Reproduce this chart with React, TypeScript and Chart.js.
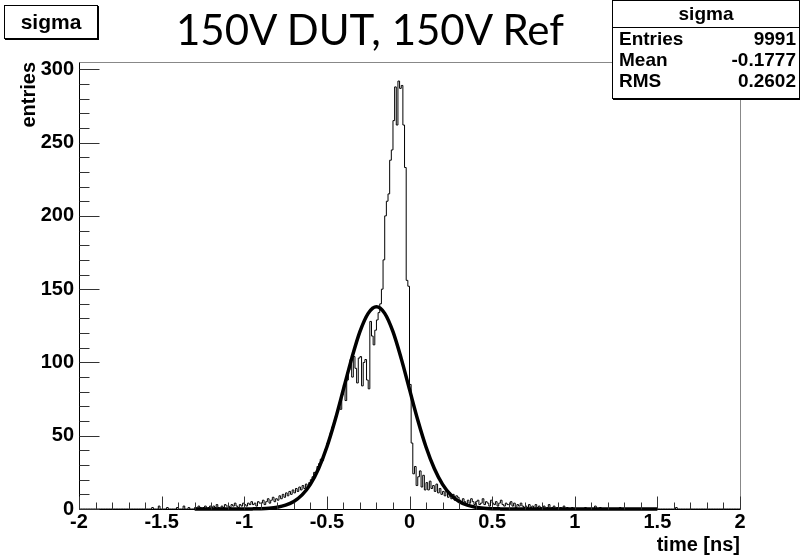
import React, { useEffect, useRef } from "react";
import { Chart, registerables } from "chart.js";

Chart.register(...registerables);

// ---- data ----
const BIN_START = -1.3;
const BIN_WIDTH = 0.01;
const COUNTS = [
  1, 0, 2, 1, 0, 1, 2, 0, 1, 2,
  1, 2, 1, 3, 1, 0, 2, 1, 3, 2,
  2, 1, 3, 2, 4, 2, 1, 3, 2, 4,
  3, 2, 4, 3, 5, 3, 4, 2, 5, 4,
  4, 6, 3, 5, 7, 4, 6, 8, 5, 7,
  6, 9, 7, 10, 8, 11, 9, 12, 10, 13,
  11, 14, 12, 15, 13, 16, 14, 17, 15, 18,
  20, 22, 25, 24, 29, 31, 34, 33, 38, 41,
  45, 48, 52, 56, 60, 63, 67, 70, 68, 78,
  85, 74, 88, 95, 102, 90, 104, 96, 86, 103,
  104, 84, 100, 102, 88, 82, 128, 118, 112, 122,
  129, 134, 140, 150, 170, 200, 210, 215, 238, 245,
  265, 288, 262, 292, 287, 289, 262, 233, 156, 152,
  85, 45, 24, 29, 16, 22, 26, 15, 23, 13,
  18, 13, 19, 14, 16, 12, 17, 11, 14, 10,
  12, 9, 13, 8, 11, 7, 10, 6, 9, 8,
  6, 4, 7, 5, 3, 6, 4, 7, 5, 3,
  5, 6, 3, 4, 7, 3, 5, 4, 2, 6,
  4, 3, 5, 2, 4, 6, 3, 2, 4, 3,
  3, 5, 2, 4, 1, 3, 2, 4, 2, 1,
  2, 1, 3, 1, 2, 0, 3, 1, 2, 1,
  1, 2, 0, 1, 3, 0, 1, 2, 0, 1,
  0, 1, 0, 2, 0, 1, 0, 0, 1, 0,
];
const OUTLIER_X = [-1.56, -1.52, -1.47, -1.41, -1.37, -1.34, 1.06, 1.12, 1.15, 1.27, 1.61];
const OUTLIER_COUNTS = [1, 2, 1, 1, 2, 1, 1, 2, 1, 1, 1];

const FIT_X = [
  -1.3, -1.2, -1.1, -1.0, -0.95, -0.9, -0.85, -0.8, -0.75, -0.7, -0.65, -0.6, -0.55,
  -0.5, -0.45, -0.4, -0.35, -0.3, -0.25, -0.2, -0.15, -0.1, -0.05, 0.0, 0.05, 0.1,
  0.15, 0.2, 0.25, 0.3, 0.35, 0.4, 0.45, 0.5, 0.55, 0.6, 0.7, 0.8, 1.0, 1.2, 1.5,
];
const FIT_Y = [
  0, 0, 0.003, 0.03, 0.085, 0.22, 0.53, 1.21, 2.58, 5.16, 9.62, 16.8, 27.6,
  42.3, 60.7, 81.6, 102.6, 121.0, 133.5, 138.0, 133.5, 121.0, 102.6, 81.6, 60.7, 42.3,
  27.6, 16.8, 9.62, 5.16, 2.58, 1.21, 0.53, 0.22, 0.085, 0.03, 0.003, 0, 0, 0, 0,
];

const X_MIN = -2;
const X_MAX = 2;
const X_STEP = 0.5;
const X_MINOR_DIVS = 5;
const Y_MIN = 0;
const Y_MAX = 305;
const Y_STEP = 50;
const Y_MINOR_DIVS = 5;

const TITLE = "150V DUT, 150V Ref";
const HIST_NAME = "sigma";
const STATS_LABELS = ["Entries", "Mean", "RMS"];
const STATS_VALUES = ["9991", "-0.1777", "0.2602"];
const X_TITLE = "time [ns]";
const Y_TITLE = "entries";

const FONT = "'Liberation Sans', Arial, Helvetica, sans-serif";

function buildHistogram() {
  const nBins = Math.round((X_MAX - X_MIN) / BIN_WIDTH);
  const c = new Array(nBins).fill(0);
  const off = Math.round((BIN_START - X_MIN) / BIN_WIDTH);
  COUNTS.forEach((v, i) => {
    c[off + i] = v;
  });
  OUTLIER_X.forEach((x, i) => {
    c[Math.floor((x - X_MIN) / BIN_WIDTH + 1e-6)] = OUTLIER_COUNTS[i];
  });
  const pts = c.map((v, i) => ({ x: X_MIN + i * BIN_WIDTH, y: v }));
  pts.push({ x: X_MAX, y: c[nBins - 1] });
  return pts;
}

const framePlugin = {
  id: "rootFrame",
  afterDatasetsDraw(chart: any) {
    const { ctx, chartArea: a, scales } = chart;
    const xs = scales.x;
    const ys = scales.y;
    const L = Math.round(a.left) + 0.5;
    const R = Math.round(a.right) + 0.5;
    const T = Math.round(a.top) + 0.5;
    const B = Math.round(a.bottom) + 0.5;
    ctx.save();
    ctx.lineWidth = 1;
    ctx.strokeStyle = "#888";
    ctx.beginPath();
    ctx.moveTo(L, T);
    ctx.lineTo(R, T);
    ctx.lineTo(R, B);
    ctx.stroke();
    ctx.strokeStyle = "#000";
    ctx.beginPath();
    ctx.moveTo(L, T);
    ctx.lineTo(L, B);
    ctx.lineTo(R, B);
    ctx.stroke();
    ctx.strokeStyle = "#333";
    ctx.beginPath();
    const yMinor = Y_STEP / Y_MINOR_DIVS;
    for (let i = 0; i * yMinor <= Y_MAX; i++) {
      const v = i * yMinor;
      const y = Math.round(ys.getPixelForValue(v)) + 0.5;
      const len = i % Y_MINOR_DIVS === 0 ? 20 : 10;
      ctx.moveTo(L, y);
      ctx.lineTo(L + len, y);
    }
    const xMinor = X_STEP / X_MINOR_DIVS;
    const nx = Math.round((X_MAX - X_MIN) / xMinor);
    for (let i = 0; i <= nx; i++) {
      const v = X_MIN + i * xMinor;
      const x = Math.round(xs.getPixelForValue(v)) + 0.5;
      const len = i % X_MINOR_DIVS === 0 ? 13 : 7;
      ctx.moveTo(x, B);
      ctx.lineTo(x, B - len);
    }
    ctx.stroke();
    ctx.restore();
  },
};

export default function App() {
  const ref = useRef<HTMLCanvasElement | null>(null);
  useEffect(() => {
    if (!ref.current) return;
    const chart = new Chart(ref.current, {
      type: "scatter",
      data: {
        datasets: [
          {
            label: "fit",
            data: FIT_X.map((x, i) => ({ x, y: FIT_Y[i] })),
            showLine: true,
            borderColor: "#000",
            borderWidth: 3.5,
            pointRadius: 0,
            cubicInterpolationMode: "monotone",
            fill: false,
            clip: 4,
          } as any,
          {
            label: HIST_NAME,
            data: buildHistogram(),
            showLine: true,
            stepped: "before",
            borderColor: "#000",
            borderWidth: 1,
            pointRadius: 0,
            fill: false,
          } as any,
        ],
      },
      options: {
        responsive: false,
        animation: false,
        events: [],
        layout: { padding: { left: 0, top: 62, right: 60, bottom: 0 } },
        plugins: {
          legend: { display: false },
          tooltip: { enabled: false },
          title: { display: false },
        },
        scales: {
          x: {
            type: "linear",
            min: X_MIN,
            max: X_MAX,
            grid: { display: false, drawTicks: false },
            border: { display: false },
            ticks: {
              stepSize: X_STEP,
              includeBounds: false,
              maxRotation: 0,
              autoSkip: false,
              padding: 1,
              color: "#000",
              font: { family: FONT, size: 20, weight: "bold" },
              callback: (v: any) => String(Math.round(Number(v) * 10) / 10),
            },
            title: {
              display: true,
              text: X_TITLE,
              align: "end",
              color: "#000",
              font: { family: FONT, size: 20, weight: "bold" },
              padding: { top: 0, bottom: 1 },
            },
            afterFit: (s: any) => {
              s.height = 49;
            },
          },
          y: {
            type: "linear",
            min: Y_MIN,
            max: Y_MAX,
            grid: { display: false, drawTicks: false },
            border: { display: false },
            ticks: {
              stepSize: Y_STEP,
              includeBounds: false,
              padding: 5,
              color: "#000",
              font: { family: FONT, size: 20, weight: "bold" },
              callback: (v: any) => String(v),
            },
            title: {
              display: true,
              text: Y_TITLE,
              align: "end",
              color: "#000",
              font: { family: FONT, size: 20, weight: "bold" },
              padding: { top: 17, bottom: 0 },
            },
            afterFit: (s: any) => {
              s.width = 79;
            },
          },
        },
      },
      plugins: [framePlugin],
    });
    return () => chart.destroy();
  }, []);

  return (
    <div style={{ position: "fixed", left: 0, top: 0, width: 800, height: 558, background: "#fff" }}>
      <canvas ref={ref} width={800} height={558} style={{ position: "absolute", left: 0, top: 0 }} />
      <div
        style={{
          position: "absolute",
          left: 4,
          top: 5,
          width: 92,
          height: 32,
          border: "1px solid #000",
          boxShadow: "1px 1px 0 #000",
          background: "#fff",
          font: `bold 21px ${FONT}`,
          lineHeight: "32px",
          textAlign: "center",
          color: "#000",
        }}
      >
        {HIST_NAME}
      </div>
      <div
        style={{
          position: "absolute",
          left: 170,
          top: 7,
          width: 400,
          textAlign: "center",
          font: `42px Lato, 'Open Sans', sans-serif`,
          lineHeight: "44px",
          color: "#000",
          whiteSpace: "nowrap",
        }}
      >
        {TITLE}
      </div>
      <div
        style={{
          position: "absolute",
          left: 612,
          top: 0,
          width: 186,
          height: 97,
          border: "1px solid #000",
          boxShadow: "1px 1px 0 #000",
          background: "#fff",
          font: `bold 19px ${FONT}`,
          color: "#000",
        }}
      >
        <div style={{ height: 26, lineHeight: "26px", textAlign: "center", borderBottom: "1px solid #000" }}>
          {HIST_NAME}
        </div>
        {STATS_LABELS.map((l, i) => (
          <div key={l} style={{ display: "flex", justifyContent: "space-between", height: 21, lineHeight: "21px", padding: "0 3px 0 6px" }}>
            <span>{l}</span>
            <span>{STATS_VALUES[i]}</span>
          </div>
        ))}
      </div>
    </div>
  );
}
